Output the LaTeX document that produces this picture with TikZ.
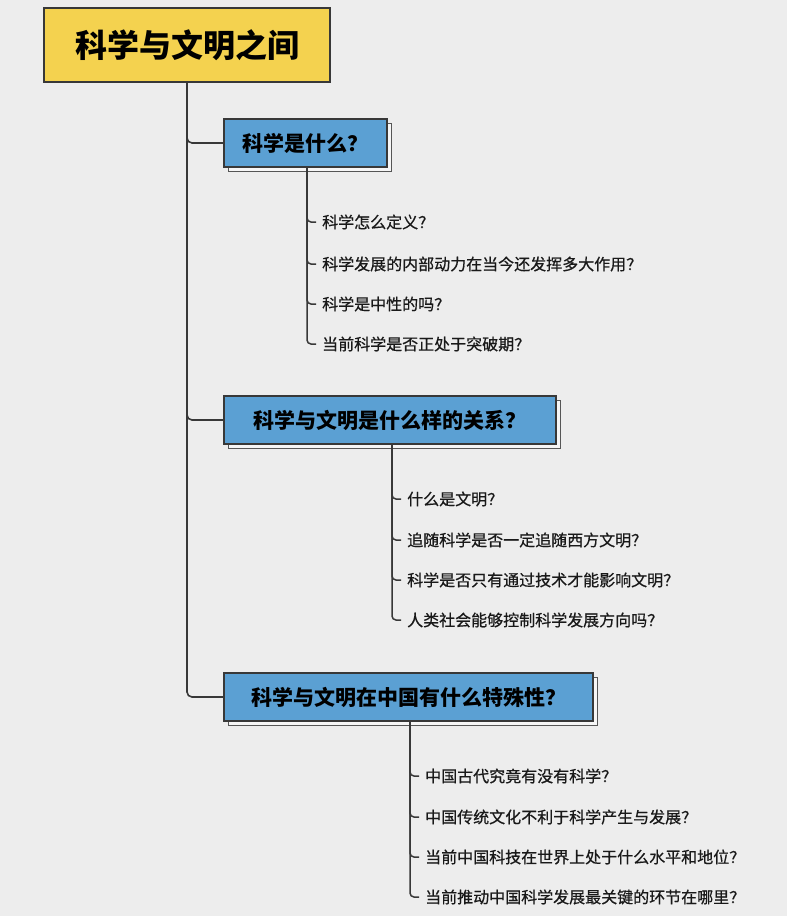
\documentclass[tikz,border=0pt]{standalone}
\usepackage{fontspec}
\setmainfont{Noto Sans CJK SC}
\newfontfamily\leaffont[FakeBold=0.6]{Noto Sans CJK SC}
\usetikzlibrary{shadows}
\definecolor{bg}{HTML}{EDEDED}
\definecolor{rootfill}{HTML}{F4D24F}
\definecolor{boxfill}{HTML}{5BA0D3}
\definecolor{linec}{HTML}{383838}
\definecolor{shadowfill}{HTML}{F6F6F6}
\tikzset{
  rootbox/.style={draw=linec, line width=1.6pt, fill=rootfill, minimum width=286pt, minimum height=74pt, inner sep=0pt, font=\fontsize{32}{36}\selectfont\bfseries},
  topicbox/.style={draw=linec, line width=1.6pt, fill=boxfill, minimum height=48pt, inner sep=0pt, font=\fontsize{21}{24}\selectfont\bfseries,
    copy shadow={shadow xshift=4.5pt, shadow yshift=-4.5pt, fill=shadowfill, draw=linec!85, line width=1.4pt}},
  leaf/.style={anchor=west, inner xsep=6pt, inner ysep=2pt, font=\leaffont\fontsize{16}{19}\selectfont, text=black!90},
  conn/.style={draw=linec, line width=1.6pt, rounded corners=5pt},
  leafconn/.style={draw=linec, line width=1.5pt, rounded corners=4pt}
}
\begin{document}
\begin{tikzpicture}[x=1pt,y=-1pt]
\fill[bg] (0,0) rectangle (787,916);
\useasboundingbox (0,0) rectangle (787,916);

\node[rootbox] (root) at (187,45) {科学与文明之间};

\node[topicbox, minimum width=163pt] (t1) at (305.5,143) {科学是什么？};
\node[topicbox, minimum width=332pt] (t2) at (390,420) {科学与文明是什么样的关系？};
\node[topicbox, minimum width=369pt] (t3) at (408.5,697) {科学与文明在中国有什么特殊性？};

\draw[conn] (root.south) |- (t1.west);
\draw[conn] (root.south) |- (t2.west);
\draw[conn] (root.south) |- (t3.west);

% topic 1 leaves
\node[leaf] (a1) at (316,222) {科学怎么定义？};
\node[leaf] (a2) at (316,264) {科学发展的内部动力在当今还发挥多大作用？};
\node[leaf] (a3) at (316,304) {科学是中性的吗？};
\node[leaf] (a4) at (316,344) {当前科学是否正处于突破期？};
\foreach \n in {a1,a2,a3,a4} \draw[leafconn] ([xshift=1.5pt]t1.south) |- (\n.west);

% topic 2 leaves
\node[leaf] (b1) at (401,499) {什么是文明？};
\node[leaf] (b2) at (401,540) {追随科学是否一定追随西方文明？};
\node[leaf] (b3) at (401,580) {科学是否只有通过技术才能影响文明？};
\node[leaf] (b4) at (401,620) {人类社会能够控制科学发展方向吗？};
\foreach \n in {b1,b2,b3,b4} \draw[leafconn] ([xshift=2pt]t2.south) |- (\n.west);

% topic 3 leaves
\node[leaf] (c1) at (419,776) {中国古代究竟有没有科学？};
\node[leaf] (c2) at (419,817) {中国传统文化不利于科学产生与发展？};
\node[leaf] (c3) at (419,857) {当前中国科技在世界上处于什么水平和地位？};
\node[leaf] (c4) at (419,897) {当前推动中国科学发展最关键的环节在哪里？};
\foreach \n in {c1,c2,c3,c4} \draw[leafconn] ([xshift=1.5pt]t3.south) |- (\n.west);
\end{tikzpicture}
\end{document}
